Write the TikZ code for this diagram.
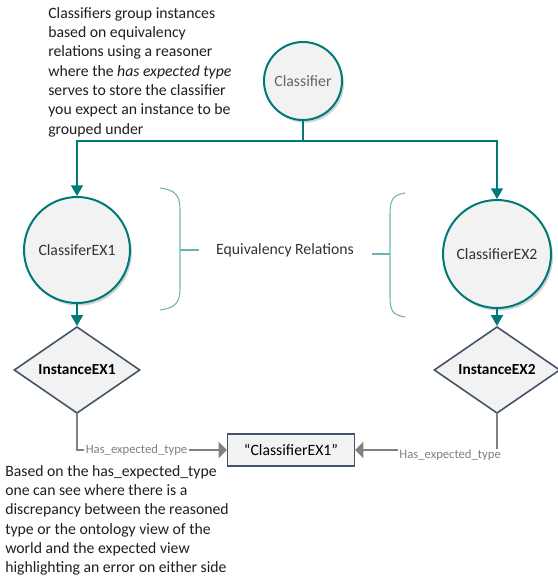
\documentclass[tikz,border=0pt]{standalone}
\usepackage{fontspec}
\setmainfont{Carlito}
\usetikzlibrary{shapes,arrows,shadows}

\definecolor{clsteal}{RGB}{0,122,120}
\definecolor{bracteal}{RGB}{110,178,176}
\definecolor{instblue}{RGB}{68,84,106}
\definecolor{boxfill}{RGB}{242,242,242}
\definecolor{hasgray}{RGB}{128,128,128}
\definecolor{textgray}{RGB}{100,100,100}
\definecolor{darktext}{RGB}{50,50,50}
\definecolor{notetext}{RGB}{30,30,30}

\begin{document}
\begin{tikzpicture}[%
    x=0.75pt, y=-0.75pt,        % one unit is one pixel of the sketch, y going down
    >=triangle 60,              % Filled heads on all connectors
    font=\fontsize{11.8}{14.5}\selectfont,
    ]
% -------------------------------------------------
% Box and line styles
\tikzset{
  base/.style={draw, align=center, fill=boxfill, inner sep=0pt},
  cls/.style={base, circle, draw=clsteal, line width=1.5pt, text=darktext,
    drop shadow={opacity=0.35, shadow xshift=1.5pt, shadow yshift=-2pt}},
  inst/.style={base, diamond, aspect=1.45, draw=instblue, line width=1.2pt,
    minimum width=94.5pt, minimum height=65pt,
    font=\fontsize{11.5}{14}\selectfont\bfseries},
  lit/.style={base, rectangle, draw=instblue, line width=1.2pt,
    minimum width=95pt, minimum height=24pt},
  % Connector line styles
  norm/.style={->, draw=clsteal, line width=1.2pt},
  hasx/.style={-triangle 90, draw=hasgray, line width=1.2pt},
  hasl/.style={font=\fontsize{9.5}{11}\selectfont, text=hasgray, fill=white, inner sep=1pt},
  brace/.style={draw=bracteal, line width=0.8pt},
  note/.style={align=left, anchor=north west, inner sep=0pt, text=notetext}
}
\useasboundingbox (0,0) rectangle (557,577);
% -------------------------------------------------
% Classifiers
\node [cls, minimum size=58.5pt, text=textgray] (cls) at (303,81) {Classifier};
\node [cls, minimum size=79.5pt] (ex1) at (77,250) {ClassiferEX1};
\node [cls, minimum size=81pt] (ex2) at (497,254) {ClassifierEX2};
% Instances and the expected value
\node [inst] (in1) at (77,370) {InstanceEX1};
\node [inst] (in2) at (497,370) {InstanceEX2};
\node [lit] (val) at (291,450) {“ClassifierEX1"};

\node [text=darktext] (eqv) at (285,250) {Equivalency Relations};

% Notes
\node [note] (topnote) at (48,7) {Classifiers group instances\\based on equivalency\\relations using a reasoner\\where the \textit{has expected type}\\serves to store the classifier\\you expect an instance to be\\grouped under};
\node [note] (botnote) at (5,465) {Based on the has\_expected\_type\\one can see where there is a\\discrepancy between the reasoned\\type or the ontology view of the\\world and the expected view\\highlighting an error on either side};

% -------------------------------------------------
% Connectors
\coordinate (split) at (303,141);
\draw [norm] (cls.south) -- (split) -| (ex1.north);
\draw [norm] (split) -| (ex2.north);
\draw [norm] (ex1) -- (in1);
\draw [norm] (ex2) -- (in2);

\draw [hasx] (in1.south) |- node [hasl, pos=0.5, anchor=west, xshift=5pt]
  {Has\_expected\_type} (val.west);
\draw [hasx] (in2.south) |- node [hasl, pos=0.5, anchor=east, xshift=4.5pt, yshift=-4pt]
  {Has\_expected\_type} (val.east);

% Equivalency braces
\draw [brace] (160,188) .. controls (176,190) and (180,196) .. (180,210)
  -- (180,288) .. controls (180,302) and (176,308) .. (160,310);
\draw [brace] (180,250) -- (199,250);
\draw [brace] (405,193) .. controls (392,195) and (390,201) .. (390,214)
  -- (390,296) .. controls (390,310) and (392,315) .. (405,317);
\draw [brace] (372,254) -- (390,254);
% -------------------------------------------------
\end{tikzpicture}
\end{document}
